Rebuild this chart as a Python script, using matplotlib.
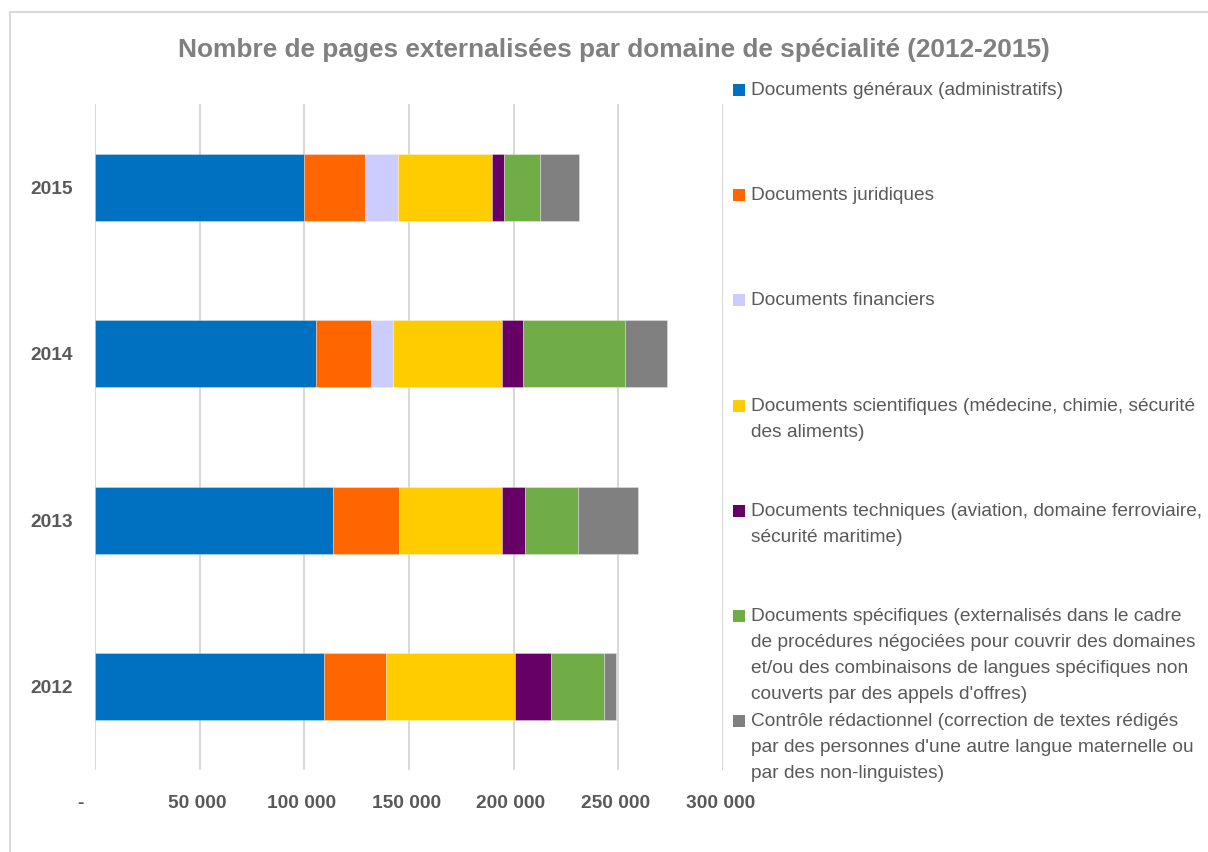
import matplotlib.pyplot as plt
import matplotlib.patches as mpatches
import numpy as np

plt.rcParams['font.family'] = ['Liberation Sans', 'DejaVu Sans']

years = ['2012', '2013', '2014', '2015']

series_names = [
    'Documents généraux (administratifs)',
    'Documents juridiques',
    'Documents financiers',
    'Documents scientifiques (médecine, chimie, sécurité\ndes aliments)',
    'Documents techniques (aviation, domaine ferroviaire,\nsécurité maritime)',
    "Documents spécifiques (externalisés dans le cadre\nde procédures négociées pour couvrir des domaines\n"
    "et/ou des combinaisons de langues spécifiques non\ncouverts par des appels d'offres)",
    "Contrôle rédactionnel (correction de textes rédigés\npar des personnes d'une autre langue maternelle ou\n"
    "par des non-linguistes)",
]

# values per year: 2012, 2013, 2014, 2015
generaux = [109400, 113700, 105600, 99700]
juridiques = [29400, 31500, 26400, 29100]
financiers = [0, 0, 10500, 15760]
scientifiques = [61600, 49100, 51700, 45000]
techniques = [17200, 11100, 10300, 5600]
specifiques = [25400, 25300, 48500, 17300]
controle = [6100, 28500, 20400, 18600]

colors = ['#0070C0', '#FF6600', '#CCCCFF', '#FFCC00', '#660066', '#70AD47', '#808080']

all_series = [generaux, juridiques, financiers, scientifiques, techniques, specifiques, controle]

fig = plt.figure(figsize=(12.08, 8.52), dpi=100)
W, H = 1208, 852

# outer border
fig.patches.append(mpatches.Rectangle((10 / W, -0.1), 1.2, 1 - 12 / H + 0.1,
                                      transform=fig.transFigure, fill=False,
                                      edgecolor='#d9d9d9', linewidth=1.5))

ax = fig.add_axes([95 / W, 1 - 770 / H, (723 - 95) / W, (770 - 104) / H])

y = np.arange(len(years))
left = np.zeros(len(years))
for vals, c in zip(all_series, colors):
    vals = np.array(vals, dtype=float)
    ax.barh(y, vals, left=left, height=0.4, color=c,
            edgecolor=(1, 1, 1, 0.35), linewidth=0.6, zorder=3)
    left += vals

ax.set_xlim(0, 300000)
ax.set_ylim(-0.5, 3.5)
ticks = np.arange(0, 300001, 50000)
ax.set_xticks(ticks)
ax.set_xticklabels(['-     '] + [f'{t:,.0f} '.replace(',', ' ') for t in ticks[1:]],
                   fontsize=13.8, fontweight='bold', color='#595959')
ax.set_yticks(y)
ax.set_yticklabels(years, fontsize=13.8, fontweight='bold', color='#595959')
ax.tick_params(axis='both', length=0)
ax.tick_params(axis='x', pad=18)
ax.tick_params(axis='y', pad=16)
ax.grid(axis='x', color='#d9d9d9', linewidth=1.5, zorder=0)
for s in ax.spines.values():
    s.set_visible(False)

fig.text(614 / W, 1 - 50 / H, 'Nombre de pages externalisées par domaine de spécialité (2012-2015)',
         ha='center', va='center', fontsize=18.9, fontweight='bold', color='#808080')

# legend drawn entry by entry
leg_top = 90
leg_step = 105.2
for i, (name, c) in enumerate(zip(series_names, colors)):
    yc = leg_top + i * leg_step
    fig.patches.append(mpatches.Rectangle((733 / W, 1 - (yc + 6) / H), 12 / W, 12 / H,
                                          transform=fig.transFigure, facecolor=c,
                                          edgecolor='none'))
    fig.text(751 / W, 1 - (yc - 8) / H, name, ha='left', va='top',
             fontsize=13.8, color='#595959', linespacing=1.7)

fig.savefig('out.png', dpi=100)
